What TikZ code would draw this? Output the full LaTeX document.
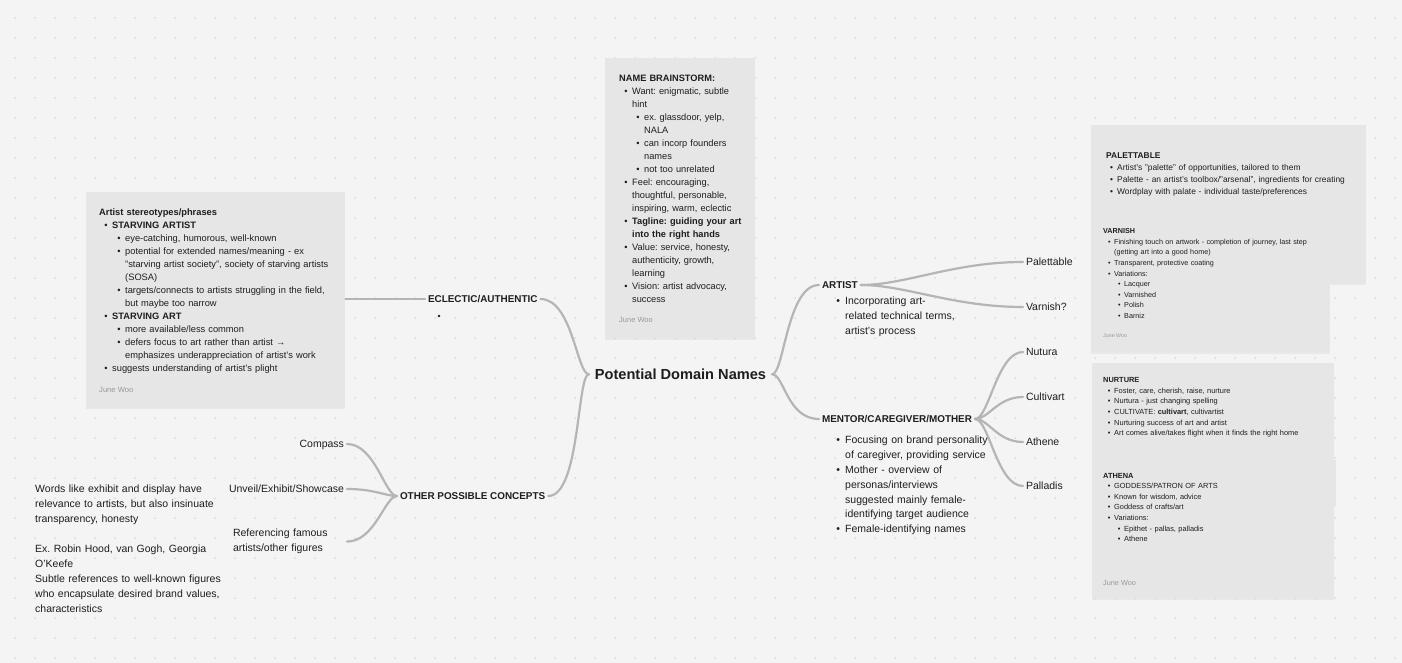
\documentclass[tikz,border=0pt]{standalone}
\usepackage{fontspec}
\setmainfont{Liberation Sans}
\usetikzlibrary{shadows}
\frenchspacing
\definecolor{bg}{HTML}{F4F4F4}
\definecolor{stk}{HTML}{E6E6E6}
\definecolor{dotc}{HTML}{C6C6C6}
\definecolor{ln}{HTML}{B5B5B5}
\definecolor{txt}{HTML}{1E1E1E}
\definecolor{sig}{HTML}{999999}
\newcommand\fs[2]{\fontsize{#1}{#2}\selectfont}
\newcommand\Bl[2]{\hspace*{#1}\llap{\textbullet\hspace{0.5em}}#2}
\newcommand\Cl[2]{\hspace*{#1}#2}
\begin{document}
\begin{tikzpicture}[x=1pt,y=-1pt,
  sticky/.style={fill=stk,draw=none,inner sep=0pt,anchor=north west,
    drop shadow={opacity=0.10,shadow xshift=0pt,shadow yshift=-1.5pt}},
  stxt/.style={anchor=base west,align=left,inner sep=0pt,text=txt,text width=250pt},
  sigt/.style={anchor=base west,inner sep=0pt,text=sig},
  lbl/.style={inner sep=0pt,outer xsep=3pt,text height=7.4pt,text depth=0pt,text=txt,font=\fs{10.5}{15}},
  blbl/.style={lbl,text height=7.1pt,font=\fs{9.9}{15}\bfseries},
  con/.style={draw=ln,line width=2.2pt,line cap=round}]
\useasboundingbox (0,0) rectangle (1402,663);
\fill[bg] (0,0) rectangle (1402,663);
\foreach \x in {15,35,...,1395}{\foreach \y in {18,38,...,658}{\fill[dotc] (\x,\y) circle (0.75);}}

% stickies
\node[sticky,minimum width=259pt,minimum height=215pt] (ls) at (86,192) {};
\node[sticky,minimum width=150pt,minimum height=280pt] (ms) at (605,58) {};
\node[sticky,minimum width=275pt,minimum height=158pt] (ps) at (1091,125) {};
\node[sticky,minimum width=239pt,minimum height=135pt] (vs) at (1091,217) {};
\node[sticky,minimum width=244pt,minimum height=45pt] (hs) at (1092,460) {};
\node[sticky,minimum width=242pt,minimum height=235pt] (ns) at (1092,363) {};

% central and branch labels
\node[inner sep=0pt,outer xsep=6pt,text height=10.5pt,text depth=0pt,text=txt,font=\fs{14.6}{18}\bfseries] (pdn) at (680.5,374.3) {Potential Domain Names};
\node[blbl,anchor=west] (ecl) at (425,299) {ECLECTIC/AUTHENTIC};
\node[blbl,anchor=west] (oth) at (397,496) {OTHER POSSIBLE CONCEPTS};
\node[blbl,anchor=west] (art) at (819,285) {ARTIST};
\node[blbl,anchor=west] (men) at (819,419) {MENTOR/CAREGIVER/MOTHER};
\node[lbl,anchor=west] (pal) at (1023,262) {Palettable};
\node[lbl,anchor=west] (var) at (1023,307) {Varnish?};
\node[lbl,anchor=west] (nut) at (1023,352) {Nutura};
\node[lbl,anchor=west] (cul) at (1023,397) {Cultivart};
\node[lbl,anchor=west] (ath) at (1023,442) {Athene};
\node[lbl,anchor=west] (pld) at (1023,486) {Palladis};
\node[lbl,anchor=east] (cmp) at (347,444) {Compass};
\node[lbl,anchor=east] (unv) at (347,489) {Unveil/Exhibit/Showcase};
\node[inner sep=0pt,outer xsep=3pt,anchor=base west,align=left,text width=111pt,text=txt,font=\fs{10.5}{15}] (rfm) at (230,536.8) {Referencing famous\\artists/other figures};

% connectors
\draw[con] (pdn.west) .. controls +(-12,0) and +(32,0) .. (ecl.east);
\draw[con] (pdn.west) .. controls +(-12,0) and +(32,0) .. (oth.east);
\draw[con] (pdn.east) .. controls +(12,0) and +(-32,0) .. (art.west);
\draw[con] (pdn.east) .. controls +(12,0) and +(-32,0) .. (men.west);
\draw[con] (ls.east |- ecl.west) -- (ecl.west);
\draw[con] (oth.west) .. controls +(-12,0) and +(28,0) .. (cmp.east);
\draw[con] (oth.west) .. controls +(-12,0) and +(28,0) .. (unv.east);
\draw[con] (oth.west) .. controls +(-12,0) and +(28,0) .. (rfm.east);
\draw[con] (art.east) .. controls +(45,0) and +(-70,0) .. (pal.west);
\draw[con] (art.east) .. controls +(45,0) and +(-70,0) .. (var.west);
\draw[con] (men.east) .. controls +(14,0) and +(-26,0) .. (nut.west);
\draw[con] (men.east) .. controls +(14,0) and +(-26,0) .. (cul.west);
\draw[con] (men.east) .. controls +(14,0) and +(-26,0) .. (ath.west);
\draw[con] (men.east) .. controls +(14,0) and +(-26,0) .. (pld.west);
\fill[txt] (439,316) circle (1.4);

% branch notes
\node[stxt,text width=160pt,font=\fs{10.5}{14.6}] (artn) at (845,304.8) {\Bl{0pt}{Incorporating art-}\\related technical terms,\\artist’s process};
\node[stxt,text width=160pt,font=\fs{10.5}{14.8}] (menn) at (845,443.8) {\Bl{0pt}{Focusing on brand personality}\\of caregiver, providing service\\\Bl{0pt}{Mother - overview of}\\personas/interviews\\suggested mainly female-\\identifying target audience\\\Bl{0pt}{Female-identifying names}};
\node[stxt,text width=190pt,font=\fs{10.5}{15}] (lt1) at (35,492.8) {Words like exhibit and display have\\relevance to artists, but also insinuate\\transparency, honesty};
\node[stxt,text width=190pt,font=\fs{10.5}{15}] (lt2) at (35,552.8) {Ex. Robin Hood, van Gogh, Georgia\\O’Keefe\\Subtle references to well-known figures\\who encapsulate desired brand values,\\characteristics};

% left sticky
\node[stxt,text width=240pt,font=\fs{9.3}{13}] (lst) at (99,215.4) {\textbf{Artist stereotypes/phrases}\\
\Bl{13pt}{\textbf{STARVING ARTIST}}\\
\Bl{26pt}{eye-catching, humorous, well-known}\\
\Bl{26pt}{potential for extended names/meaning - ex}\\
\Cl{26pt}{"starving artist society", society of starving artists}\\
\Cl{26pt}{(SOSA)}\\
\Bl{26pt}{targets/connects to artists struggling in the field,}\\
\Cl{26pt}{but maybe too narrow}\\
\Bl{13pt}{\textbf{STARVING ART}}\\
\Bl{26pt}{more available/less common}\\
\Bl{26pt}{defers focus to art rather than artist →}\\
\Cl{26pt}{emphasizes underappreciation of artist’s work}\\
\Bl{13pt}{suggests understanding of artist’s plight}};
\node[sigt,font=\fs{7.6}{9}] (lss) at (99,392) {June Woo};

% middle sticky
\node[stxt,text width=135pt,font=\fs{9.25}{13}] (mst) at (619,81.4) {\textbf{NAME BRAINSTORM:}\\
\Bl{13pt}{Want: enigmatic, subtle}\\
\Cl{13pt}{hint}\\
\Bl{25pt}{ex. glassdoor, yelp,}\\
\Cl{25pt}{NALA}\\
\Bl{25pt}{can incorp founders}\\
\Cl{25pt}{names}\\
\Bl{25pt}{not too unrelated}\\
\Bl{13pt}{Feel: encouraging,}\\
\Cl{13pt}{thoughtful, personable,}\\
\Cl{13pt}{inspiring, warm, eclectic}\\
\Bl{13pt}{\textbf{Tagline: guiding your art}}\\
\Cl{13pt}{\textbf{into the right hands}}\\
\Bl{13pt}{Value: service, honesty,}\\
\Cl{13pt}{authenticity, growth,}\\
\Cl{13pt}{learning}\\
\Bl{13pt}{Vision: artist advocacy,}\\
\Cl{13pt}{success}};
\node[sigt,font=\fs{7.5}{9}] (mss) at (619,322.7) {June Woo};

% palettable sticky
\node[stxt,text width=255pt,font=\fs{8.4}{11.67}] (pst) at (1106,159) {\textbf{PALETTABLE}\\
\Bl{11pt}{Artist’s "palette" of opportunities, tailored to them}\\
\Bl{11pt}{Palette - an artist’s toolbox/"arsenal", ingredients for creating}\\
\Bl{11pt}{Wordplay with palate - individual taste/preferences}};

% varnish sticky
\node[stxt,text width=222pt,font=\fs{7.2}{10.6}] (vst) at (1103,233.6) {\textbf{VARNISH}\\
\Bl{11pt}{Finishing touch on artwork - completion of journey, last step}\\
\Cl{11pt}{(getting art into a good home)}\\
\Bl{11pt}{Transparent, protective coating}\\
\Bl{11pt}{Variations:}\\
\Bl{21pt}{Lacquer}\\
\Bl{21pt}{Varnished}\\
\Bl{21pt}{Polish}\\
\Bl{21pt}{Barniz}};
\node[sigt,font=\fs{5.3}{7}] (vss) at (1103,337) {June Woo};

% nurture / athena sticky
\node[stxt,text width=225pt,font=\fs{7.4}{10.6}] (nst) at (1103,382.7) {\textbf{NURTURE}\\
\Bl{11pt}{Foster, care, cherish, raise, nurture}\\
\Bl{11pt}{Nurtura - just changing spelling}\\
\Bl{11pt}{CULTIVATE: \textbf{cultivart}, cultivartist}\\
\Bl{11pt}{Nurturing success of art and artist}\\
\Bl{11pt}{Art comes alive/takes flight when it finds the right home}\\[31.8pt]
\textbf{ATHENA}\\
\Bl{11pt}{GODDESS/PATRON OF ARTS}\\
\Bl{11pt}{Known for wisdom, advice}\\
\Bl{11pt}{Goddess of crafts/art}\\
\Bl{11pt}{Variations:}\\
\Bl{21pt}{Epithet - pallas, palladis}\\
\Bl{21pt}{Athene}};
\node[sigt,font=\fs{7.3}{9}] (nss) at (1103,585.7) {June Woo};
\end{tikzpicture}
\end{document}
